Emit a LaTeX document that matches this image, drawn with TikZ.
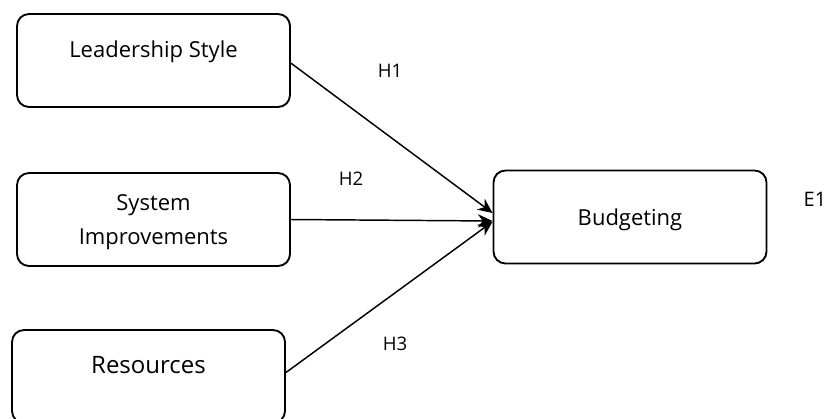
\documentclass[tikz,border=0pt]{standalone}
\usepackage{fontspec}
\setmainfont{Open Sans}
\usetikzlibrary{arrows.meta}
\tikzset{
	factor/.style={draw, line width=1.4pt, rounded corners=9pt, minimum width=204.75pt, minimum height=69.75pt, inner sep=0pt, align=center, font=\fontsize{16.5}{25.5}\selectfont},
	raised/.style={text height=12.5pt, text depth=17pt},
	link/.style={line width=1.1pt, -{Stealth[length=11pt, width=10pt]}},
	hyp/.style={font=\fontsize{14}{16}\selectfont}
}
\begin{document}
\begin{tikzpicture}[x=0.75pt, y=-0.75pt]
		%\draw[help lines] (0,0) grid (827,418);
		\useasboundingbox (0,0) rectangle (827,418);
		
		\node[factor, raised] (lead) at (153.5,60.5) {Leadership Style};
		\node[factor, text depth=-9pt] (sys) at (153.5,219.5) {System\\Improvements};
		\node[factor, text height=13pt, text depth=17pt, font=\fontsize{18}{22}\selectfont] (res) at (148.5,376.5) {Resources};
		\node[factor, text height=13pt, text depth=0pt] (bud) at (630,217) {Budgeting};
		
		\draw[link] ([yshift=-2pt]lead.east) -- ([yshift=3pt]bud.west);
		\draw[link] (sys.east) -- ([yshift=-3pt]bud.west);
		\draw[link] ([yshift=3pt]res.east) -- ([yshift=-3.5pt]bud.west);
		
		\node[hyp] (h1) at (390,71) {H1};
		\node[hyp] (h2) at (351,179) {H2};
		\node[hyp] (h3) at (395,344) {H3};
		\node[font=\fontsize{15}{18}\selectfont] (e1) at (815,199) {E1};
\end{tikzpicture}
\end{document}
